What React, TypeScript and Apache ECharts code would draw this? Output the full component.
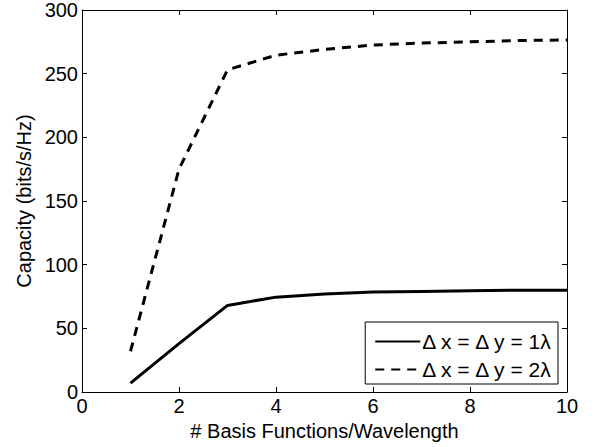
import React, { useEffect, useRef } from "react";
import * as echarts from "echarts";

const xValues = [1, 2, 3, 4, 5, 6, 7, 8, 9, 10];
const solidValues = [7, 38, 68, 74.5, 77, 78.5, 79, 79.5, 80, 80];
const dashedValues = [32, 175, 253, 264.5, 269, 272.5, 274, 275, 276, 276.5];
const seriesNames = ["\u0394 x = \u0394 y = 1\u03bb", "\u0394 x = \u0394 y = 2\u03bb"];
const xAxisName = "# Basis Functions/Wavelength";
const yAxisName = "Capacity (bits/s/Hz)";

const FONT = "'Liberation Sans', Arial, sans-serif";

export default function App() {
  const ref = useRef<HTMLDivElement>(null);
  useEffect(() => {
    if (!ref.current) return;
    const chart = echarts.init(ref.current, null, { renderer: "svg" });
    const axisCommon = {
      axisLine: { show: true, onZero: false, lineStyle: { color: "#000", width: 1 } },
      axisTick: { show: true, inside: true, length: 5, lineStyle: { color: "#000" } },
      splitLine: { show: false },
    };
    chart.setOption({
      animation: false,
      backgroundColor: "#fff",
      grid: { left: 82, right: 30, top: 10, bottom: 55, containLabel: false },
      xAxis: [
        {
          type: "value",
          min: 0,
          max: 10,
          interval: 2,
          name: xAxisName,
          nameLocation: "middle",
          nameGap: 25,
          nameTextStyle: { fontFamily: FONT, fontSize: 20, color: "#000" },
          axisLabel: { fontFamily: FONT, fontSize: 20, color: "#000", margin: 4 },
          ...axisCommon,
        },
        {
          type: "value",
          position: "top",
          min: 0,
          max: 10,
          interval: 2,
          axisLabel: { show: false },
          ...axisCommon,
        },
      ],
      yAxis: [
        {
          type: "value",
          min: 0,
          max: 300,
          interval: 50,
          name: yAxisName,
          nameLocation: "middle",
          nameGap: 46,
          nameTextStyle: { fontFamily: FONT, fontSize: 20, color: "#000" },
          axisLabel: { fontFamily: FONT, fontSize: 20, color: "#000", margin: 4 },
          ...axisCommon,
        },
        {
          type: "value",
          position: "right",
          min: 0,
          max: 300,
          interval: 50,
          axisLabel: { show: false },
          ...axisCommon,
        },
      ],
      legend: {
        orient: "vertical",
        right: 39,
        top: 322,
        padding: [9, 5, 4, 9],
        itemWidth: 45,
        itemHeight: 14,
        itemGap: 7,
        borderColor: "#000",
        borderWidth: 1,
        backgroundColor: "#fff",
        borderRadius: 0,
        itemStyle: { opacity: 0 },
        textStyle: { fontFamily: FONT, fontSize: 21, lineHeight: 21, color: "#000", padding: [0, 0, 0, -3] },
        data: seriesNames,
      },
      series: [
        {
          name: seriesNames[0],
          type: "line",
          data: xValues.map((x, i) => [x, solidValues[i]]),
          symbol: "none",
          lineStyle: { color: "#000", width: 3, type: "solid" },
          itemStyle: { color: "#000" },
        },
        {
          name: seriesNames[1],
          type: "line",
          data: xValues.map((x, i) => [x, dashedValues[i]]),
          symbol: "none",
          lineStyle: { color: "#000", width: 3, type: [9, 7] },
          itemStyle: { color: "#000" },
        },
      ],
    });
    return () => chart.dispose();
  }, []);
  return (
    <div
      ref={ref}
      style={{ position: "absolute", left: 0, top: 0, width: 597, height: 447 }}
    />
  );
}
